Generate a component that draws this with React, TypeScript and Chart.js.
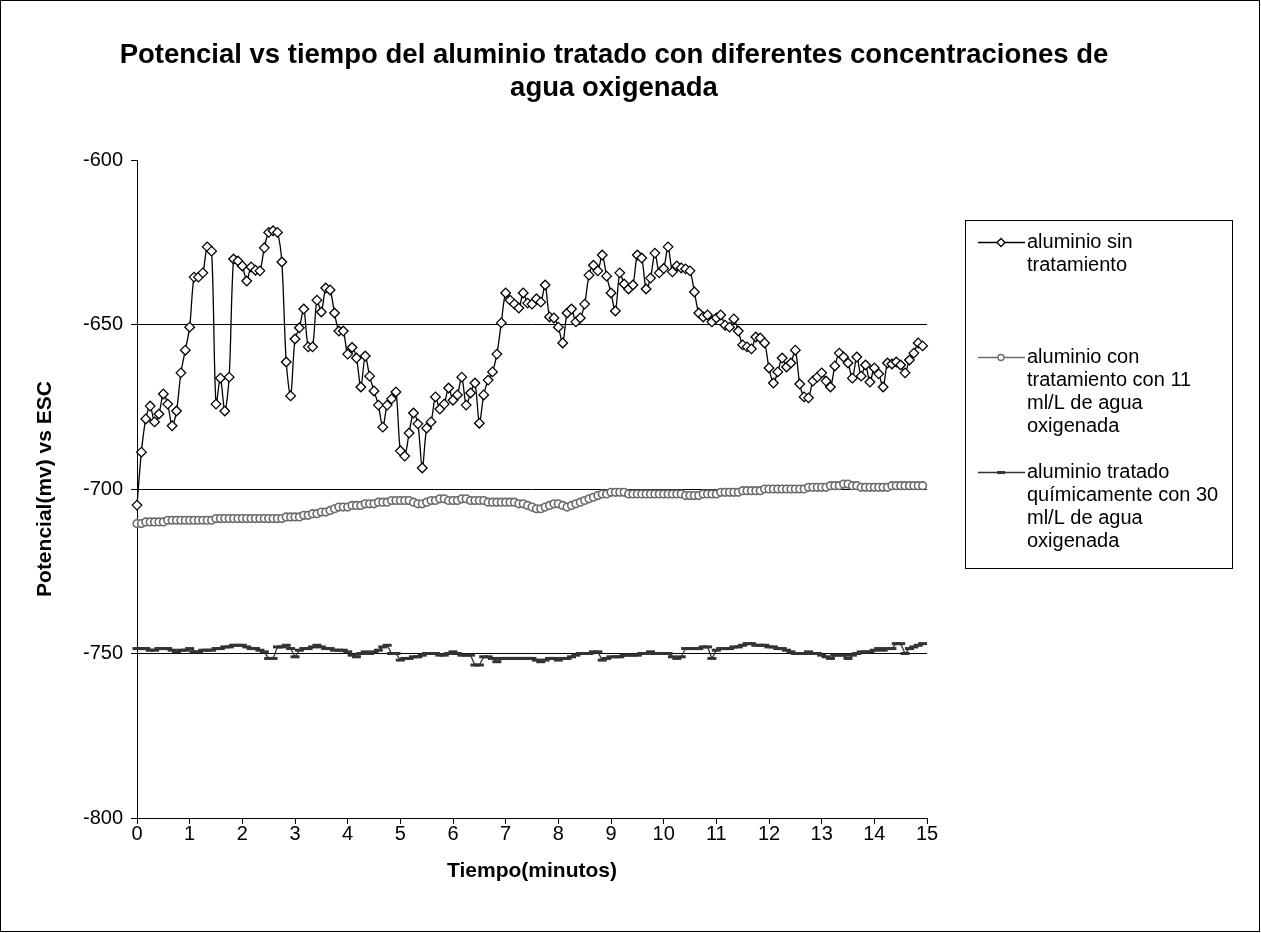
import React, { useEffect, useRef } from "react";
import { Chart, registerables } from "chart.js";

Chart.register(...registerables);

// ---------- data ----------
const TITLE_LINES = [
  "Potencial vs tiempo del aluminio tratado con diferentes concentraciones de",
  "agua oxigenada",
];
const X_TITLE = "Tiempo(minutos)";
const Y_TITLE = "Potencial(mv) vs ESC";
const X_MIN = 0;
const X_MAX = 15;
const X_STEP = 1;
const Y_MIN = -800;
const Y_MAX = -600;
const Y_STEP = 50;
const SAMPLE_STEP_MIN = 1 / 12; // one reading every 5 s

const LEGEND_LABELS = [
  ["aluminio sin", "tratamiento"],
  ["aluminio con", "tratamiento con 11", "ml/L de agua", "oxigenada"],
  ["aluminio tratado", "químicamente con 30", "ml/L de agua", "oxigenada"],
];

const SIN_TRATAMIENTO = [
  -704.9, -688.8, -678.7, -674.8, -679.6, -677.2, -671.1, -674.2, -680.8, -676.3,
  -664.7, -657.8, -650.8, -635.6, -635.6, -634.3, -626.4, -627.7, -674.2, -666.3,
  -676.3, -666.0, -630.1, -630.7, -632.2, -636.8, -632.5, -633.5, -633.7, -626.7,
  -622.0, -621.5, -622.0, -631.0, -661.4, -671.7, -654.4, -651.0, -645.3, -656.8,
  -656.8, -642.6, -646.2, -638.9, -639.5, -646.5, -652.0, -652.0, -659.0, -657.0,
  -660.2, -669.0, -659.6, -665.7, -670.2, -674.5, -681.2, -674.5, -672.6, -670.5,
  -688.4, -690.0, -683.0, -676.9, -680.2, -693.6, -681.5, -679.6, -672.0, -675.7,
  -674.2, -669.3, -673.0, -671.4, -666.0, -674.5, -670.8, -667.8, -680.0, -671.4,
  -666.9, -664.4, -659.0, -649.5, -640.4, -642.6, -643.8, -645.0, -640.4, -643.5,
  -643.8, -642.2, -643.2, -638.0, -647.7, -648.0, -650.8, -655.6, -646.5, -645.3,
  -649.2, -648.0, -643.8, -635.0, -632.0, -633.7, -628.9, -635.3, -640.4, -645.9,
  -634.3, -637.7, -639.2, -638.0, -628.9, -629.8, -639.2, -635.9, -628.3, -634.3,
  -633.0, -626.4, -634.0, -632.2, -632.8, -633.1, -633.7, -640.1, -646.5, -647.7,
  -647.1, -649.2, -648.0, -647.1, -650.2, -650.8, -648.3, -652.0, -656.2, -656.8,
  -657.4, -653.8, -654.1, -655.6, -663.2, -667.8, -664.4, -660.2, -662.9, -661.7,
  -657.8, -668.1, -672.0, -672.3, -667.2, -666.0, -664.7, -667.2, -669.0, -662.6,
  -658.7, -659.9, -661.7, -666.3, -659.9, -665.7, -662.3, -667.5, -663.2, -665.0,
  -669.0, -661.7, -662.0, -661.4, -662.3, -664.7, -660.8, -658.7, -655.6, -656.5,
];

const CON_11 = [
  -710.5, -710.5, -710, -710, -710, -710, -710, -709.5, -709.5, -709.5, -709.5, -709.5,
  -709.5, -709.5, -709.5, -709.5, -709.5, -709.5, -709, -709, -709, -709, -709, -709,
  -709, -709, -709, -709, -709, -709, -709, -709, -709, -709, -708.5, -708.5,
  -708.5, -708.5, -708, -708, -707.5, -707.5, -707, -707, -706.5, -706, -705.5, -705.5,
  -705.5, -705, -705, -705, -704.5, -704.5, -704.5, -704, -704, -704, -703.5, -703.5,
  -703.5, -703.5, -703.5, -704, -704.5, -704.5, -704, -703.5, -703.5, -703, -703, -703.5,
  -703.5, -703.5, -703, -703, -703.5, -703.5, -703.5, -703.5, -704, -704, -704, -704,
  -704, -704, -704, -704.5, -704.5, -705, -705.5, -706, -706, -705.5, -705, -704.5,
  -704.5, -705, -705.5, -705, -704.5, -704, -703.5, -703, -702.5, -702, -701.5, -701.5,
  -701, -701, -701, -701, -701.5, -701.5, -701.5, -701.5, -701.5, -701.5, -701.5, -701.5,
  -701.5, -701.5, -701.5, -701.5, -701.5, -702, -702, -702, -702, -701.5, -701.5, -701.5,
  -701.5, -701, -701, -701, -701, -701, -700.5, -700.5, -700.5, -700.5, -700.5, -700,
  -700, -700, -700, -700, -700, -700, -700, -700, -700, -699.5, -699.5, -699.5,
  -699.5, -699.5, -699, -699, -699, -698.5, -698.5, -699, -699, -699.5, -699.5, -699.5,
  -699.5, -699.5, -699.5, -699.5, -699, -699, -699, -699, -699, -699, -699, -699,
];

const CON_30 = [
  -748.5, -748.5, -748.5, -749, -749, -748.5, -748.5, -748.5, -749, -749.5,
  -749, -749, -748.5, -749.5, -749.5, -749, -749, -749, -748.5, -748.5,
  -748, -748, -747.5, -747.5, -747.5, -748, -748.5, -748.5, -749, -749.5,
  -751.5, -751.5, -748, -748, -747.5, -748.5, -751, -749, -748.5, -748.5,
  -748, -747.5, -748, -748.5, -748.5, -749, -749, -749, -749.5, -750.5,
  -751, -750, -749.5, -750, -749.5, -749, -748, -747.5, -750, -750,
  -752, -751.5, -751.5, -751, -751, -750.5, -750, -750, -750, -750.5,
  -750.5, -750, -749.5, -750, -750.5, -750.5, -750.5, -753.5, -753.5, -751,
  -751, -751.5, -752.5, -751.5, -751.5, -751.5, -751.5, -751.5, -751.5, -751.5,
  -751.5, -752, -752.5, -752, -751.5, -751.5, -752, -751.5, -751.5, -751,
  -750.5, -750, -750, -750, -749.5, -749.5, -752, -751.5, -751, -751,
  -751, -750.5, -750.5, -750.5, -750.5, -750, -750, -749.5, -750, -750,
  -750, -750, -751, -751.5, -751, -748.5, -748.5, -748.5, -748.5, -748,
  -748, -751.5, -749, -748.5, -748.5, -748.5, -748, -748, -747.5, -747,
  -747, -747.5, -747.5, -747.5, -748, -748, -748.5, -748.5, -749, -749.5,
  -750, -750, -750, -749.5, -750, -750, -750.5, -751, -751.5, -750.5,
  -750.5, -750.5, -751.5, -750.5, -750, -749.5, -749.5, -749.5, -749, -748.5,
  -749, -748.5, -748.5, -747, -747, -750, -748.5, -748, -747.5, -747,
];

// ---------- layout / style ----------
const W = 1261;
const H = 933;
const AREA = { left: 137, top: 160, right: 927, bottom: 818 };
const FONT = "'Liberation Sans', Arial, sans-serif";
const COLORS = ["#000000", "#6a6a6a", "#333333"];

function toPoints(values: number[]) {
  return values.map((v, i) => ({ x: i * SAMPLE_STEP_MIN, y: v }));
}

function drawMarker(ctx: CanvasRenderingContext2D, kind: number, x: number, y: number) {
  ctx.save();
  if (kind === 0) {
    const r = 4;
    ctx.beginPath();
    ctx.moveTo(x, y - r);
    ctx.lineTo(x + r, y);
    ctx.lineTo(x, y + r);
    ctx.lineTo(x - r, y);
    ctx.closePath();
    ctx.fillStyle = "#fff";
    ctx.fill();
    ctx.strokeStyle = COLORS[0];
    ctx.lineWidth = 1.3;
    ctx.stroke();
  } else if (kind === 1) {
    ctx.beginPath();
    ctx.arc(x, y, 3, 0, Math.PI * 2);
    ctx.fillStyle = "#fff";
    ctx.fill();
    ctx.strokeStyle = COLORS[1];
    ctx.lineWidth = 1.3;
    ctx.stroke();
  } else {
    ctx.beginPath();
    ctx.moveTo(x - 4, y);
    ctx.lineTo(x + 4, y);
    ctx.strokeStyle = COLORS[2];
    ctx.lineWidth = 3;
    ctx.stroke();
  }
  ctx.restore();
}

const decorPlugin = {
  id: "decor",
  beforeDraw(chart: any) {
    const ctx = chart.ctx as CanvasRenderingContext2D;
    ctx.save();
    ctx.fillStyle = "#fff";
    ctx.fillRect(0, 0, W, H);
    ctx.restore();
  },
  afterDraw(chart: any) {
    const ctx = chart.ctx as CanvasRenderingContext2D;
    ctx.save();
    // outer frame
    ctx.strokeStyle = "#000";
    ctx.lineWidth = 1;
    ctx.strokeRect(0.5, 0.5, W - 2, H - 2);

    // title
    ctx.fillStyle = "#000";
    ctx.textAlign = "center";
    ctx.textBaseline = "middle";
    ctx.font = `bold 27.5px ${FONT}`;
    ctx.fillText(TITLE_LINES[0], 614, 55);
    ctx.fillText(TITLE_LINES[1], 614, 88);

    // axis titles
    ctx.font = `bold 21px ${FONT}`;
    ctx.fillText(X_TITLE, (AREA.left + AREA.right) / 2, 871);
    ctx.save();
    ctx.translate(45, (AREA.top + AREA.bottom) / 2);
    ctx.rotate(-Math.PI / 2);
    ctx.fillText(Y_TITLE, 0, 0);
    ctx.restore();

    // legend
    ctx.strokeStyle = "#000";
    ctx.lineWidth = 1;
    ctx.strokeRect(965.5, 220.5, 267, 348);
    const rows = [242, 357, 472];
    ctx.font = `20px ${FONT}`;
    ctx.textAlign = "left";
    LEGEND_LABELS.forEach((lines, i) => {
      const y = rows[i];
      ctx.beginPath();
      ctx.moveTo(978, y + 0.5);
      ctx.lineTo(1025, y + 0.5);
      ctx.strokeStyle = COLORS[i];
      ctx.lineWidth = 1.3;
      ctx.stroke();
      drawMarker(ctx, i, 1001, y + 0.5);
      ctx.fillStyle = "#000";
      lines.forEach((t, j) => ctx.fillText(t, 1027, y + j * 23.3));
    });
    ctx.restore();
  },
};

export default function App() {
  const ref = useRef<HTMLCanvasElement | null>(null);

  useEffect(() => {
    if (!ref.current) return;
    const chart = new Chart(ref.current, {
      type: "scatter",
      data: {
        datasets: [
          {
            label: LEGEND_LABELS[0].join(" "),
            data: toPoints(SIN_TRATAMIENTO),
            showLine: true,
            borderColor: COLORS[0],
            borderWidth: 1.3,
            tension: 0.3,
            pointStyle: "rectRot",
            pointRadius: 4.8,
            pointBackgroundColor: "#fff",
            pointBorderColor: COLORS[0],
            pointBorderWidth: 1.3,
            clip: false,
          },
          {
            label: LEGEND_LABELS[1].join(" "),
            data: toPoints(CON_11),
            showLine: true,
            borderColor: COLORS[1],
            borderWidth: 1.5,
            tension: 0.3,
            pointStyle: "circle",
            pointRadius: 3.8,
            pointBackgroundColor: "#fff",
            pointBorderColor: COLORS[1],
            pointBorderWidth: 1.6,
            clip: false,
          },
          {
            label: LEGEND_LABELS[2].join(" "),
            data: toPoints(CON_30),
            showLine: true,
            borderColor: COLORS[2],
            borderWidth: 1.3,
            tension: 0,
            pointStyle: "line",
            pointRadius: 4.5,
            pointBorderColor: COLORS[2],
            pointBorderWidth: 3,
            clip: false,
          },
        ],
      },
      options: {
        responsive: false,
        animation: false,
        events: [],
        devicePixelRatio: 1,
        layout: {
          padding: { left: 0, top: AREA.top, right: W - AREA.right, bottom: 0 },
        },
        plugins: {
          legend: { display: false },
          title: { display: false },
          tooltip: { enabled: false },
        },
        scales: {
          x: {
            type: "linear",
            min: X_MIN,
            max: X_MAX,
            afterFit: (s: any) => {
              s.height = H - AREA.bottom;
            },
            ticks: {
              stepSize: X_STEP,
              color: "#000",
              font: { family: FONT, size: 20 },
              padding: -2,
              maxRotation: 0,
            },
            grid: {
              drawOnChartArea: false,
              drawTicks: true,
              tickLength: 6,
              tickColor: "#000",
              tickWidth: 1,
            },
            border: { display: true, color: "#000", width: 1 },
          },
          y: {
            type: "linear",
            min: Y_MIN,
            max: Y_MAX,
            afterFit: (s: any) => {
              s.width = AREA.left;
            },
            ticks: {
              stepSize: Y_STEP,
              color: "#000",
              font: { family: FONT, size: 20 },
              padding: 8,
            },
            grid: {
              color: (c: any) => (c.tick && c.tick.value === Y_MAX ? "rgba(0,0,0,0)" : "#000"),
              lineWidth: 1,
              drawTicks: true,
              tickLength: 6,
              tickColor: "#000",
            },
            border: { display: true, color: "#000", width: 1 },
          },
        },
      },
      plugins: [decorPlugin],
    } as any);
    return () => chart.destroy();
  }, []);

  return (
    <div style={{ position: "absolute", left: 0, top: 0, width: W, height: H, background: "#fff" }}>
      <canvas ref={ref} width={W} height={H} style={{ display: "block", width: W, height: H }} />
    </div>
  );
}
